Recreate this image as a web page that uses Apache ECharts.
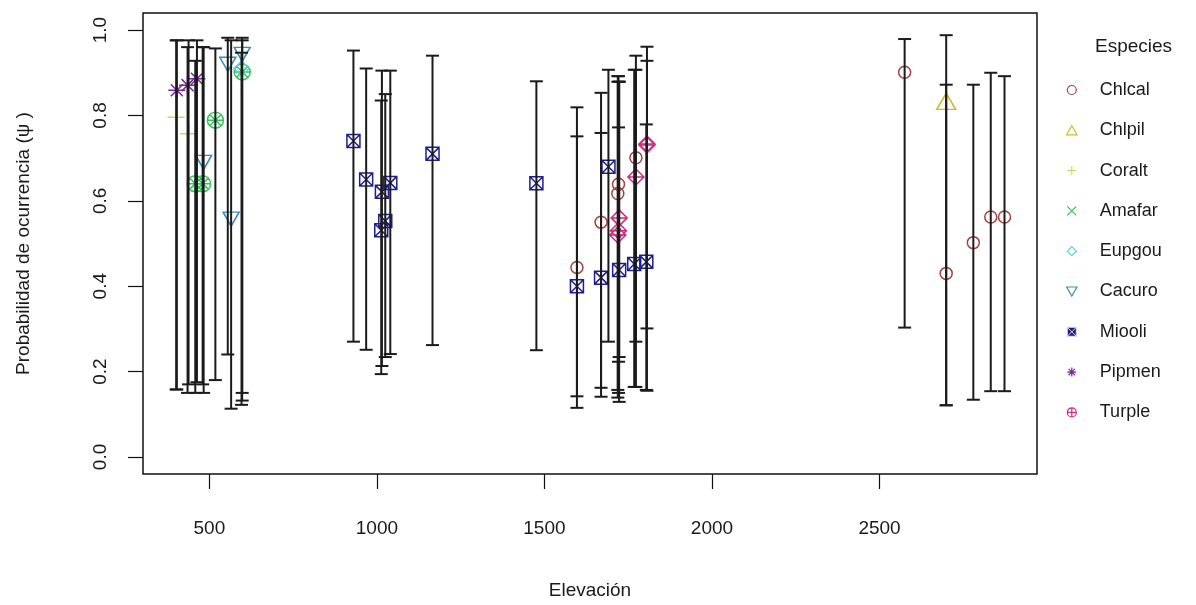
<!DOCTYPE html>
<html>
<head>
<meta charset="utf-8">
<script src="https://cdn.jsdelivr.net/npm/echarts@6/dist/echarts.min.js"></script>
<style>
  html, body { margin: 0; padding: 0; background: #fff; }
  #chart { width: 1196px; height: 605px; }
</style>
</head>
<body>
<div id="chart"></div>
<script>
// Occupancy estimates per species: [elevation, psi, lower CI, upper CI]
const Chlcal = [
  [1597, 0.444, 0.142, 0.751],
  [1669, 0.550, 0.162, 0.853],
  [1721, 0.639, 0.150, 0.892],
  [1719, 0.617, 0.139, 0.879],
  [1773, 0.701, 0.270, 0.940],
  [2575, 0.901, 0.303, 0.979],
  [2699, 0.430, 0.121, 0.872],
  [2780, 0.502, 0.134, 0.872],
  [2832, 0.562, 0.154, 0.900],
  [2873, 0.562, 0.154, 0.892]
];
const Chlpil = [
  [2699, 0.833, 0.121, 0.988]
];
const Coralt = [
  [401, 0.796, 0.158, 0.976],
  [438, 0.757, 0.170, 0.976]
];
const Amafar = [
  [458, 0.640, 0.150, 0.928],
  [480, 0.640, 0.170, 0.960],
  [518, 0.789, 0.180, 0.957],
  [598, 0.902, 0.132, 0.976]
];
const Eupgou = [
  [596, 0.910, 0.122, 0.947]
];
const Cacuro = [
  [483, 0.690, 0.150, 0.960],
  [555, 0.920, 0.240, 0.982],
  [565, 0.557, 0.113, 0.976],
  [598, 0.943, 0.150, 0.982]
];
const Miooli = [
  [930, 0.740, 0.270, 0.952],
  [968, 0.650, 0.251, 0.910],
  [1015, 0.621, 0.213, 0.905],
  [1013, 0.531, 0.194, 0.835],
  [1025, 0.553, 0.234, 0.850],
  [1040, 0.642, 0.241, 0.905],
  [1166, 0.710, 0.262, 0.940],
  [1476, 0.641, 0.250, 0.880],
  [1597, 0.400, 0.115, 0.819],
  [1669, 0.420, 0.141, 0.759],
  [1691, 0.680, 0.270, 0.907],
  [1723, 0.438, 0.129, 0.879],
  [1768, 0.452, 0.164, 0.907],
  [1804, 0.457, 0.157, 0.779]
];
const Pipmen = [
  [403, 0.859, 0.158, 0.976],
  [435, 0.871, 0.150, 0.960],
  [463, 0.886, 0.175, 0.976]
];
const Turple = [
  [1723, 0.560, 0.234, 0.879],
  [1721, 0.530, 0.223, 0.772],
  [1719, 0.520, 0.157, 0.892],
  [1773, 0.656, 0.164, 0.907],
  [1806, 0.731, 0.301, 0.961],
  [1806, 0.733, 0.155, 0.928]
];

const speciesNames = ['Chlcal', 'Chlpil', 'Coralt', 'Amafar', 'Eupgou', 'Cacuro', 'Miooli', 'Pipmen', 'Turple'];
const speciesData = [Chlcal, Chlpil, Coralt, Amafar, Eupgou, Cacuro, Miooli, Pipmen, Turple];

const xTicks = [500, 1000, 1500, 2000, 2500];
const yTicks = [0, 0.2, 0.4, 0.6, 0.8, 1.0];

// Styling
const colors = ['#a4423f', '#d6b62e', '#cfd85c', '#35c45a', '#55d3e3', '#3b8db4', '#1e1e8c', '#7a2896', '#d02a80'];
const P = {
  circle: 'circle',
  triUp: 'path://M5 0L10 8.66L0 8.66Z',
  plus: 'path://M5 0L5 10M0 5L10 5',
  cross: 'path://M0 0L10 10M10 0L0 10',
  starCircle: 'path://M10 5A5 5 0 1 1 0 5A5 5 0 1 1 10 5ZM5 0L5 10M0 5L10 5M1.46 1.46L8.54 8.54M8.54 1.46L1.46 8.54',
  diamond: 'path://M5 0L10 5L5 10L0 5Z',
  triDown: 'path://M0 0L10 0L5 8.66Z',
  boxCross: 'path://M0 0L10 0L10 10L0 10ZM0 0L10 10M10 0L0 10',
  asterisk: 'path://M5 0L5 10M0 5L10 5M1.46 1.46L8.54 8.54M8.54 1.46L1.46 8.54',
  diamondPlus: 'path://M5 0L10 5L5 10L0 5ZM5 0L5 10M0 5L10 5',
  circlePlus: 'path://M10 5A5 5 0 1 1 0 5A5 5 0 1 1 10 5ZM5 0L5 10M0 5L10 5'
};
const plotSymbols = [P.circle, P.triUp, P.plus, P.starCircle, P.diamond, P.triDown, P.boxCross, P.asterisk, P.diamondPlus];
const plotSizes = [12, [19, 16], 17, 16, 15, [16, 14], 13, 17, 16];
const legendIcons = [P.circle, P.triUp, P.plus, P.cross, P.diamond, P.triDown, P.boxCross, P.asterisk, P.circlePlus];

const FONT = "'Liberation Sans', Arial, sans-serif";

const scatterSeries = speciesNames.map((name, i) => ({
  name: name,
  type: 'scatter',
  z: 2,
  symbol: plotSymbols[i],
  symbolSize: plotSizes[i],
  itemStyle: { color: 'rgba(0,0,0,0)', borderColor: colors[i], borderWidth: 1.5, opacity: 1 },
  emphasis: { disabled: true },
  data: speciesData[i].map(d => [d[0], d[1]])
}));

const barData = [];
speciesData.forEach(arr => arr.forEach(d => barData.push([d[0], d[2], d[3]])));

const errorSeries = {
  type: 'custom',
  z: 5,
  silent: true,
  data: barData,
  encode: { x: 0, y: [1, 2] },
  renderItem: function (params, api) {
    const x = api.value(0);
    const lo = api.coord([x, api.value(1)]);
    const hi = api.coord([x, api.value(2)]);
    const w = 6.5;
    const st = { stroke: '#1b1b1b', lineWidth: 2 };
    return {
      type: 'group',
      children: [
        { type: 'line', shape: { x1: lo[0], y1: lo[1], x2: hi[0], y2: hi[1] }, style: st },
        { type: 'line', shape: { x1: lo[0] - w, y1: lo[1], x2: lo[0] + w, y2: lo[1] }, style: st },
        { type: 'line', shape: { x1: hi[0] - w, y1: hi[1], x2: hi[0] + w, y2: hi[1] }, style: st }
      ]
    };
  }
};

const chart = echarts.init(document.getElementById('chart'), null, { renderer: 'canvas' });
chart.setOption({
  animation: false,
  backgroundColor: '#ffffff',
  textStyle: { fontFamily: FONT },
  title: {
    text: 'Especies',
    left: 1095,
    top: 37,
    padding: 0,
    textStyle: { fontFamily: FONT, fontSize: 19, fontWeight: 'normal', color: '#1a1a1a' }
  },
  legend: {
    orient: 'vertical',
    left: 1066,
    top: 80,
    padding: 0,
    itemWidth: 46,
    itemHeight: 9,
    itemGap: 20.3,
    selectedMode: false,
    textStyle: { fontFamily: FONT, fontSize: 18, color: '#1a1a1a', lineHeight: 20 },
    data: speciesNames.map((name, i) => ({
      name: name,
      icon: legendIcons[i],
      itemStyle: { color: i === 6 ? colors[i] : 'rgba(0,0,0,0)', borderColor: i === 6 ? '#d8d8ef' : colors[i], borderWidth: i === 6 ? 1 : 1.2 }
    }))
  },
  grid: {
    left: 143, right: 159, top: 13, bottom: 131,
    outerBoundsMode: 'none',
    show: true, borderColor: '#111', borderWidth: 1.5, backgroundColor: 'transparent'
  },
  xAxis: {
    type: 'value',
    min: 302, max: 2970,
    name: 'Elevación',
    nameLocation: 'middle',
    nameGap: 107,
    nameTextStyle: { fontFamily: FONT, fontSize: 19, color: '#1a1a1a' },
    axisLine: { show: false, onZero: false },
    splitLine: { show: false },
    axisTick: { show: true, length: 15, customValues: xTicks, lineStyle: { color: '#111', width: 1.2 } },
    axisLabel: { customValues: xTicks, margin: 45, fontFamily: FONT, fontSize: 19, color: '#1a1a1a', formatter: v => String(v) }
  },
  yAxis: {
    type: 'value',
    min: -0.04, max: 1.04,
    name: 'Probabilidad de ocurrencia (ψ )',
    nameLocation: 'middle',
    nameRotate: 90,
    nameGap: 110,
    nameTextStyle: { fontFamily: FONT, fontSize: 19, color: '#1a1a1a' },
    axisLine: { show: false, onZero: false },
    splitLine: { show: false },
    axisTick: { show: true, length: 15, customValues: yTicks, lineStyle: { color: '#111', width: 1.2 } },
    axisLabel: {
      customValues: yTicks, rotate: 90, margin: 33,
      fontFamily: FONT, fontSize: 19, color: '#1a1a1a',
      formatter: v => v.toFixed(1)
    }
  },
  series: scatterSeries.concat([errorSeries])
});
</script>
</body>
</html>
